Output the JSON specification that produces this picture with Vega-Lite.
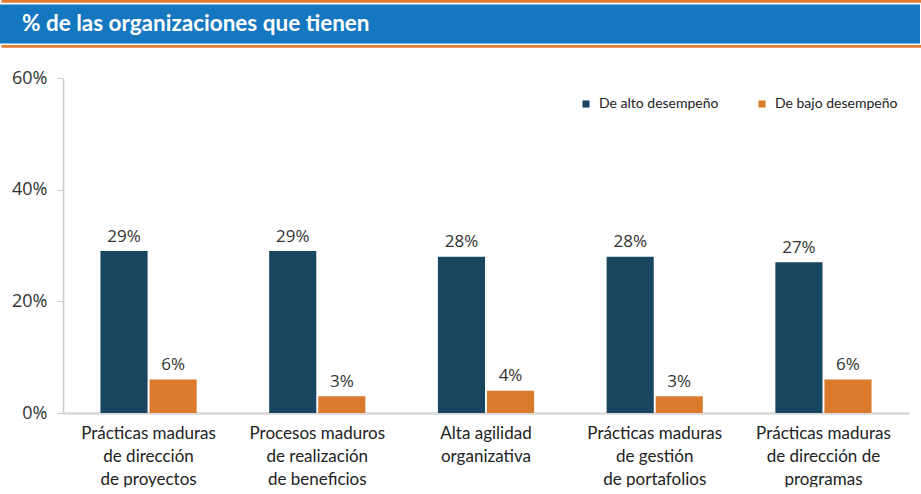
{
  "$schema": "https://vega.github.io/schema/vega-lite/v6.json",
  "padding": 0,
  "background": "white",
  "spacing": 21,
  "config": {"view": {"stroke": null}, "font": "Open Sans"},
  "resolve": {"legend": {"color": "independent"}, "scale": {"x": "independent", "y": "independent"}},
  "vconcat": [
    {
      "width": 858,
      "height": 48,
      "data": {"values": [{"titulo": "% de las organizaciones que tienen"}]},
      "layer": [
        {
          "mark": {"type": "rule", "color": "#e07b30", "strokeWidth": 2.8},
          "encoding": {
            "x": {"datum": 1.4, "type": "quantitative", "scale": {"domain": [63, 921], "nice": false, "zero": false}, "axis": null},
            "x2": {"datum": 921},
            "y": {"datum": 1.4, "type": "quantitative", "scale": {"domain": [0, 48], "nice": false, "zero": false, "reverse": true}, "axis": null}
          }
        },
        {
          "mark": {"type": "rect", "color": "#1577c0"},
          "encoding": {
            "x": {"datum": 0, "type": "quantitative"},
            "x2": {"datum": 920},
            "y": {"datum": 4.6, "type": "quantitative"},
            "y2": {"datum": 43.4}
          }
        },
        {
          "mark": {"type": "rule", "color": "#e07b30", "strokeWidth": 2.8},
          "encoding": {
            "x": {"datum": 1.4, "type": "quantitative"},
            "x2": {"datum": 921},
            "y": {"datum": 46.3, "type": "quantitative"}
          }
        },
        {
          "mark": {"type": "text", "align": "left", "baseline": "middle", "font": "Lato", "fontSize": 22.5, "fontWeight": "bold", "color": "white"},
          "encoding": {
            "x": {"datum": 22, "type": "quantitative"},
            "y": {"datum": 24, "type": "quantitative"},
            "text": {"field": "titulo"}
          }
        }
      ]
    },
    {
      "width": 846,
      "height": 335,
      "data": {
        "values": [
          {"categoria": "Prácticas maduras|de dirección|de proyectos", "grupo": "De alto desempeño", "valor": 0.29},
          {"categoria": "Prácticas maduras|de dirección|de proyectos", "grupo": "De bajo desempeño", "valor": 0.06},
          {"categoria": "Procesos maduros|de realización|de beneficios", "grupo": "De alto desempeño", "valor": 0.29},
          {"categoria": "Procesos maduros|de realización|de beneficios", "grupo": "De bajo desempeño", "valor": 0.03},
          {"categoria": "Alta agilidad|organizativa", "grupo": "De alto desempeño", "valor": 0.28},
          {"categoria": "Alta agilidad|organizativa", "grupo": "De bajo desempeño", "valor": 0.04},
          {"categoria": "Prácticas maduras|de gestión|de portafolios", "grupo": "De alto desempeño", "valor": 0.28},
          {"categoria": "Prácticas maduras|de gestión|de portafolios", "grupo": "De bajo desempeño", "valor": 0.03},
          {"categoria": "Prácticas maduras|de dirección de|programas", "grupo": "De alto desempeño", "valor": 0.27},
          {"categoria": "Prácticas maduras|de dirección de|programas", "grupo": "De bajo desempeño", "valor": 0.06}
        ]
      },
      "encoding": {
        "x": {
          "field": "categoria",
          "type": "nominal",
          "sort": null,
          "scale": {"paddingInner": 0.43, "paddingOuter": 0.222},
          "axis": {
            "title": null,
            "labelAngle": 0,
            "ticks": false,
            "domainColor": "#d9d9d9",
            "domainWidth": 2.5,
            "labelFont": "Lato",
            "labelFontSize": 17,
            "labelColor": "#222222",
            "labelLineHeight": 23,
            "labelPadding": 12,
            "labelBaseline": "top",
            "labelLimit": 220,
            "labelExpr": "split(datum.label, '|')"
          }
        },
        "xOffset": {
          "field": "grupo",
          "type": "nominal",
          "sort": ["De alto desempeño", "De bajo desempeño"],
          "scale": {"paddingInner": 0.04}
        },
        "y": {
          "field": "valor",
          "type": "quantitative",
          "scale": {"domain": [0, 0.6], "nice": false},
          "axis": {
            "title": null,
            "values": [0, 0.2, 0.4, 0.6],
            "format": ".0%",
            "grid": false,
            "domainColor": "#cccccc",
            "domainWidth": 1.5,
            "tickColor": "#cccccc",
            "tickSize": 6,
            "labelFont": "Open Sans",
            "labelFontSize": 18,
            "labelColor": "#333333",
            "labelPadding": 10,
            "minExtent": 63,
            "maxExtent": 63
          }
        }
      },
      "layer": [
        {
          "mark": {"type": "bar"},
          "encoding": {
            "color": {
              "field": "grupo",
              "type": "nominal",
              "scale": {"domain": ["De alto desempeño", "De bajo desempeño"], "range": ["#18455f", "#d97a2c"]},
              "legend": {
                "title": null,
                "orient": "none",
                "legendX": 516,
                "legendY": 19,
                "direction": "horizontal",
                "symbolType": "square",
                "symbolSize": 50,
                "symbolStrokeWidth": 0,
                "labelFont": "Lato",
                "labelFontSize": 14,
                "labelColor": "#222222",
                "labelOffset": 6,
                "columnPadding": 36
              }
            }
          }
        },
        {
          "mark": {"type": "text", "baseline": "alphabetic", "dy": -9.5, "font": "Open Sans", "fontSize": 17, "color": "#333333"},
          "encoding": {
            "text": {"field": "valor", "type": "quantitative", "format": ".0%"}
          }
        }
      ]
    }
  ]
}
